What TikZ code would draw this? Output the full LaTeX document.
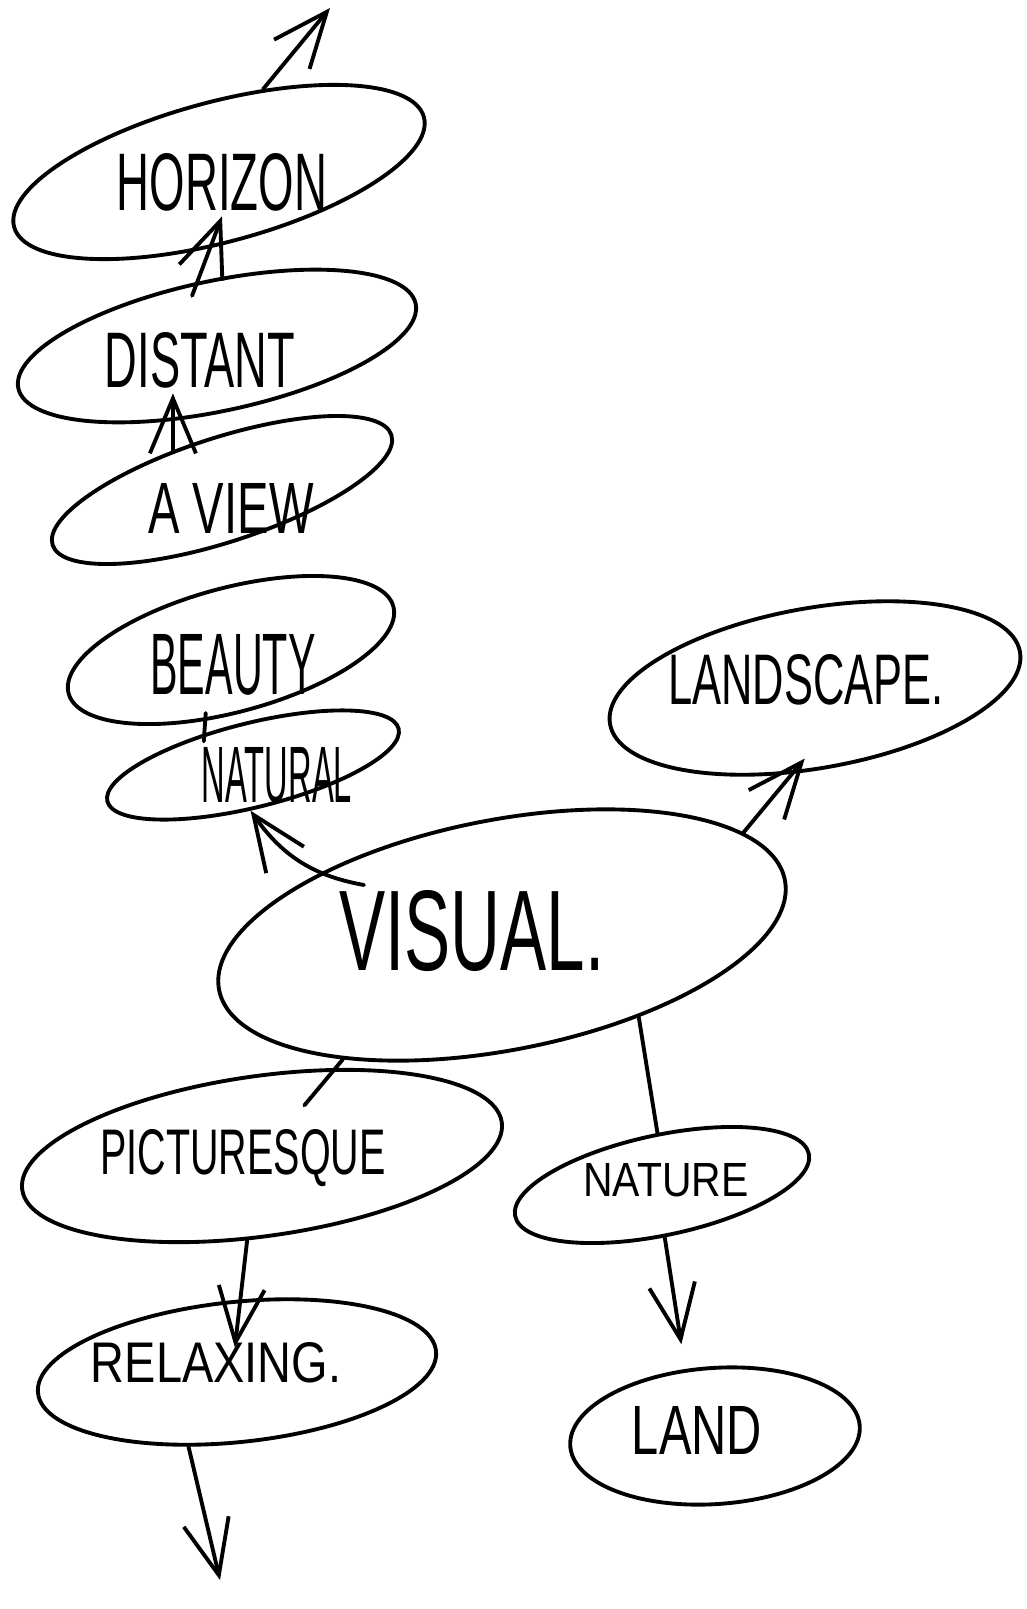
\documentclass[tikz,border=0pt]{standalone}
\usepackage{fontspec}
\usepackage{graphicx}
\setsansfont{Liberation Sans}
\usetikzlibrary{shapes.geometric,arrows.meta}

\newcommand{\hand}[3]{\resizebox{#1}{#2}{\sffamily #3}}

\begin{document}
\begin{tikzpicture}[x=0.01cm, y=-0.01cm, line width=1.1pt, line cap=round,
    arr/.style={-{Straight Barb[length=5.5mm,width=4.6mm]}}]

        \useasboundingbox (0,0) rectangle (1026,1609);

        % the rings
        \begin{scope}[every node/.style={ellipse, draw, inner sep=0pt}]
          \node[minimum width=4.24cm, minimum height=1.40cm, rotate=15] (horizon)     at (219,172)  {};
          \node[minimum width=4.06cm, minimum height=1.30cm, rotate=12] (distant)     at (217,346)  {};
          \node[minimum width=3.56cm, minimum height=1.04cm, rotate=18] (aview)       at (222,490)  {};
          \node[minimum width=3.36cm, minimum height=1.24cm, rotate=15] (beauty)      at (231,650)  {};
          \node[minimum width=3.00cm, minimum height=0.84cm, rotate=14] (natural)     at (253,765)  {};
          \node[minimum width=5.76cm, minimum height=2.30cm, rotate=11] (visual)      at (502,935)  {};
          \node[minimum width=4.16cm, minimum height=1.60cm, rotate=10] (landscape)   at (815,688)  {};
          \node[minimum width=4.84cm, minimum height=1.60cm, rotate=8]  (picturesque) at (262,1156) {};
          \node[minimum width=4.00cm, minimum height=1.40cm, rotate=6]  (relaxing)    at (237,1372) {};
          \node[minimum width=3.00cm, minimum height=1.00cm, rotate=12] (nature)      at (662,1185) {};
          \node[minimum width=2.90cm, minimum height=1.36cm, rotate=4]  (land)        at (715,1436) {};
        \end{scope}

        % the words
        \begin{scope}[every node/.style={inner sep=1pt}]
          \node (horizonT)     at (222,182)  {\hand{2.10cm}{0.57cm}{HORIZON}};
          \node (distantT)     at (200,360)  {\hand{1.90cm}{0.55cm}{DISTANT}};
          \node (aviewT)       at (231,508)  {\hand{1.65cm}{0.50cm}{A VIEW}};
          \node (beautyT)      at (233,665)  {\hand{1.65cm}{0.60cm}{BEAUTY}};
          \node (naturalT)     at (277,775)  {\hand{1.50cm}{0.55cm}{NATURAL}};
          \node (visualT)      at (472,931)  {\hand{2.65cm}{0.80cm}{VISUAL.}};
          \node (landscapeT)   at (806,680)  {\hand{2.75cm}{0.50cm}{LANDSCAPE.}};
          \node (picturesqueT) at (243,1158) {\hand{2.85cm}{0.45cm}{PICTURESQUE}};
          \node (relaxingT)    at (216,1363) {\hand{2.50cm}{0.40cm}{RELAXING.}};
          \node (natureT)      at (666,1180) {\hand{1.65cm}{0.33cm}{NATURE}};
          \node (landT)        at (697,1430) {\hand{1.30cm}{0.48cm}{LAND}};
        \end{scope}

        \coordinate (beyond) at (330,8);
        \coordinate (onward) at (220,1580);

        \begin{scope}[every edge/.style={draw}]
          \path (horizon.47)   edge[arr] (beyond);
          \path (distant.95)   edge[arr, shorten <=-1.5mm] (horizonT.south);
          \path (aview.123)    edge[arr] (aview.123 |- distantT.south);
          \path (beauty.235)   edge[shorten <=-0.8mm, shorten >=-0.8mm] (natural.133);
          \path ([xshift=3mm]visualT.north west) edge[arr, out=170, in=-55] (natural.253);
          \path (visual.12)    edge[arr, shorten >=-2mm] (landscape.245);
          \path (visual.207)   edge[shorten >=6.6mm] (picturesque.center);
          \path (visual.318)   edge (nature.83);
          \path (picturesque.252) edge[arr, shorten >=-1mm] ([xshift=2mm]relaxingT.north);
          \path (relaxing.231) edge[arr] (onward);
          \path (nature.261)   edge[arr, shorten >=2.5mm] (land.110);
        \end{scope}

      \end{tikzpicture}
\end{document}
